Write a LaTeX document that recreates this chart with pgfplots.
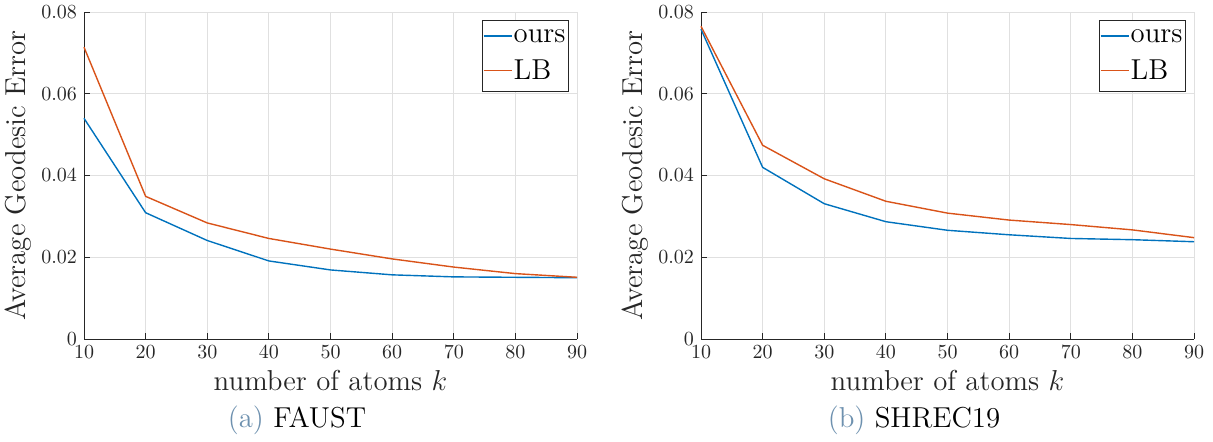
\documentclass[border=0pt]{standalone}
\usepackage{pgfplots}
\pgfplotsset{compat=1.18}
\definecolor{mblue}{RGB}{0,114,189}
\definecolor{morange}{RGB}{217,83,25}
\definecolor{capblue}{RGB}{110,145,175}
\definecolor{axgray}{RGB}{38,38,38}
\pgfplotsset{
  myaxis/.style={
    scale only axis,
    width=246.5pt, height=163.5pt,
    xmin=10, xmax=90, ymin=0, ymax=0.08,
    xtick={10,20,...,90},
    ytick={0,0.02,0.04,0.06,0.08},
    scaled y ticks=false,
    yticklabel style={/pgf/number format/fixed, /pgf/number format/precision=2},
    grid=major,
    major grid style={draw=black!12, line width=0.5pt},
    axis line style={draw=axgray, line width=0.5pt},
    tick style={draw=axgray, line width=0.5pt},
    tick align=inside,
    major tick length=3pt,
    axis x line*=bottom, axis y line*=left,
    every tick label/.append style={text=axgray, font=\normalsize},
    xlabel={number of atoms $k$},
    ylabel={Average Geodesic Error},
    xlabel style={font=\Large, text=axgray, yshift=1pt},
    ylabel style={font=\Large, text=axgray, yshift=-2pt},
    legend style={at={(rel axis cs:0.984,0.975)}, anchor=north east,
      draw=axgray, line width=0.6pt, font=\Large, inner xsep=0.5pt, inner ysep=2.8pt,
      row sep=4.5pt, nodes={inner xsep=1pt, inner ysep=1.5pt}},
    legend cell align=left,
    clip=false,
  },
  ours/.style={draw=mblue, line width=0.7pt,
    legend image code/.code={\node[inner sep=0pt, anchor=west] at (0pt,0pt)
      {\textcolor{mblue}{\rule[-0.35pt]{14pt}{0.7pt}}};}},
  lb/.style={draw=morange, line width=0.7pt,
    legend image code/.code={\node[inner sep=0pt, anchor=west] at (0pt,0pt)
      {\textcolor{morange}{\rule[-0.35pt]{14pt}{0.7pt}}};}},
}
\begin{document}
\begin{tikzpicture}
\useasboundingbox (-42pt,-51pt) rectangle (564.5pt,169.5pt);
\begin{axis}[myaxis, name=ax1]
\addplot[ours] coordinates {
(10,0.0540) (20,0.0309) (30,0.0241) (40,0.0191) (50,0.0169) (60,0.0157) (70,0.0152) (80,0.0151) (90,0.0150)};
\addlegendentry{ours}
\addplot[lb] coordinates {
(10,0.0714) (20,0.0349) (30,0.0284) (40,0.0246) (50,0.0220) (60,0.0196) (70,0.0176) (80,0.0160) (90,0.0151)};
\addlegendentry{LB}
\node[font=\Large] at (rel axis cs:0.432,-0.248) {\textcolor{capblue}{(a)} FAUST};
\end{axis}
\begin{axis}[myaxis, xshift=308.5pt]
\addplot[ours] coordinates {
(10,0.0758) (20,0.0420) (30,0.0331) (40,0.0287) (50,0.0266) (60,0.0255) (70,0.0246) (80,0.0243) (90,0.0238)};
\addlegendentry{ours}
\addplot[lb] coordinates {
(10,0.0765) (20,0.0474) (30,0.0392) (40,0.0337) (50,0.0308) (60,0.0291) (70,0.0280) (80,0.0267) (90,0.0248)};
\addlegendentry{LB}
\node[font=\Large] at (rel axis cs:0.432,-0.248) {\textcolor{capblue}{(b)} SHREC19};
\end{axis}
\end{tikzpicture}
\end{document}
